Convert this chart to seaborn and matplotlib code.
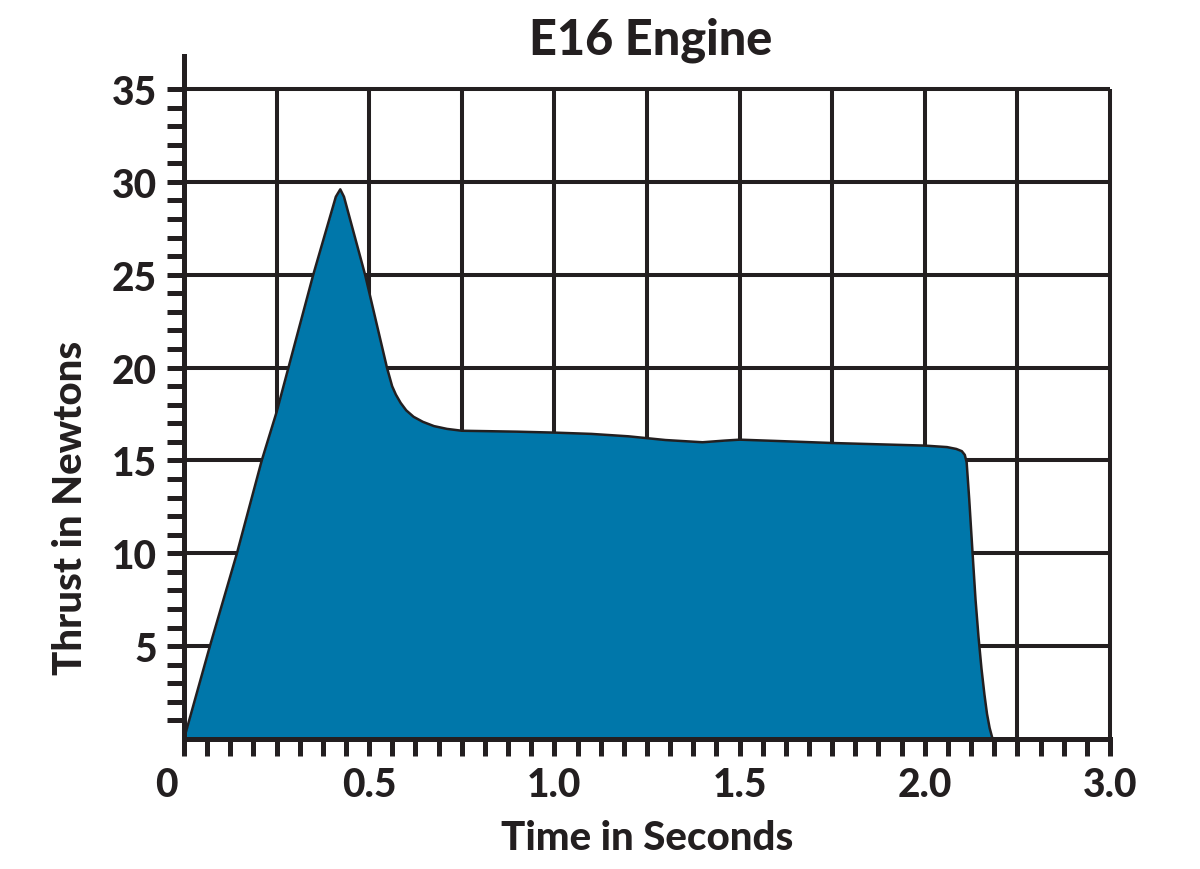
import numpy as np
import matplotlib
matplotlib.use("Agg")
import matplotlib.pyplot as plt
import matplotlib.transforms as mtransforms
import seaborn as sns

# Thrust curve
time_s = [0.0, 0.07, 0.143, 0.21, 0.25, 0.349, 0.41, 0.422, 0.432, 0.489, 0.548,
          0.562, 0.572, 0.585, 0.60, 0.62, 0.645, 0.675, 0.71, 0.75, 0.9, 1.0, 1.1,
          1.2, 1.3, 1.40, 1.46, 1.5, 1.6, 1.75, 2.0, 2.06, 2.085, 2.1, 2.108, 2.113,
          2.12, 2.129, 2.137, 2.145, 2.153, 2.161, 2.168, 2.175, 2.183]
thrust_n = [0.0, 5.0, 10.0, 15.0, 17.6, 25.0, 29.2, 29.6, 29.2, 25.0, 20.0,
            19.0, 18.55, 18.1, 17.7, 17.35, 17.08, 16.85, 16.7, 16.6, 16.55, 16.5, 16.43,
            16.3, 16.1, 15.98, 16.07, 16.12, 16.05, 15.94, 15.8, 15.72, 15.62, 15.5, 15.3, 14.9,
            12.9, 10.0, 7.5, 5.5, 3.8, 2.4, 1.35, 0.6, 0.0]

x_major = [0.0, 0.5, 1.0, 1.5, 2.0, 2.5]
x_labels = ["0", "0.5", "1.0", "1.5", "2.0", "3.0"]
y_major = [5, 10, 15, 20, 25, 30, 35]
y_labels = ["5", "10", "15", "20", "25", "30", "35"]

ink = "#231f20"
fill = "#0077aa"

sns.set_style("white")
plt.rcParams["font.family"] = ["Lato", "DejaVu Sans"]

fig = plt.figure(figsize=(12, 8.7), dpi=100)
ax = fig.add_axes([0.1533, 0.1494, 0.7717, 0.7851])
ax.set_xlim(0, 2.5)
ax.set_ylim(0, 36.78)

# grid only inside 0..2.5 x 0..35
grid_x = np.arange(0.25, 2.51, 0.25)
grid_y = np.arange(5, 36, 5)
ax.vlines(grid_x, 0, 35, color=ink, lw=2.9, zorder=1, clip_on=False)
ax.hlines(grid_y, 0, 2.5, color=ink, lw=2.9, zorder=1, clip_on=False)

ax.fill_between(time_s, thrust_n, 0, color=fill, lw=0, zorder=2)
sns.lineplot(x=time_s, y=thrust_n, sort=False, color=ink, lw=1.8, ax=ax, zorder=3)

for s in ["top", "right"]:
    ax.spines[s].set_visible(False)
for s in ["left", "bottom"]:
    ax.spines[s].set_color(ink)
    ax.spines[s].set_linewidth(3.6)
    ax.spines[s].set_zorder(4)

ax.set_xticks(x_major)
ax.set_xticklabels(x_labels)
ax.set_xticks(np.arange(0.0625, 2.5, 0.0625), minor=True)
ax.set_yticks(y_major)
ax.set_yticklabels(y_labels)
ax.set_yticks([v for v in range(1, 35) if v % 5 != 0], minor=True)

ax.tick_params(axis="both", which="both", direction="out", length=12.5, width=3.6,
               color=ink, labelcolor=ink, bottom=True, left=True)
ax.tick_params(axis="both", which="major", labelsize=28, pad=7)
for lab in ax.get_xticklabels() + ax.get_yticklabels():
    lab.set_fontweight("black")
for tk in ax.xaxis.get_major_ticks() + ax.xaxis.get_minor_ticks():
    tk.tick1line.set_clip_on(False)

# the "0" sits a little left of the axis in the original
shift = mtransforms.ScaledTranslation(-18 / 100, 0, fig.dpi_scale_trans)
zero_lab = ax.get_xticklabels()[0]
zero_lab.set_transform(zero_lab.get_transform() + shift)

ax.set_xlabel("Time in Seconds", fontsize=29, fontweight="black", color=ink)
ax.set_ylabel("Thrust in Newtons", fontsize=29, fontweight="black", color=ink)
ax.xaxis.set_label_coords(0.5, -0.117)
ax.yaxis.set_label_coords(-0.103, 0.34)
fig.text(0.542, 0.954, "E16 Engine", ha="center", va="center", fontsize=35,
         fontweight="black", color=ink)

fig.savefig("out.png", dpi=100)
